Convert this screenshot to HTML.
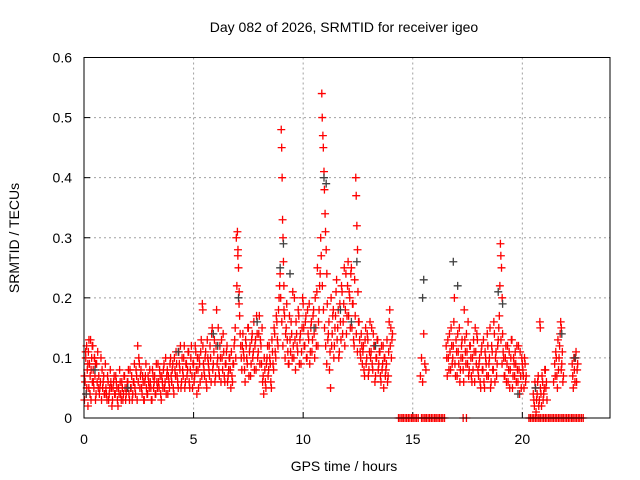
<!DOCTYPE html>
<html><head><meta charset="utf-8"><style>
body{margin:0;background:#fff}
svg{display:block;font-family:"Liberation Sans",sans-serif}
</style></head><body>
<svg id="chart" width="640" height="480" viewBox="0 0 640 480" xmlns="http://www.w3.org/2000/svg">
<rect width="640" height="480" fill="#fff"/>
<text x="344" y="32" font-size="14" text-anchor="middle">Day 082 of 2026, SRMTID for receiver igeo</text>
<text x="344" y="471" font-size="14" text-anchor="middle">GPS time / hours</text>
<text x="0" y="0" font-size="14" text-anchor="middle" transform="translate(19,238) rotate(-90)">SRMTID / TECUs</text>
<g id="grid"></g><g id="ticks"></g><g id="red"></g><g id="gray"></g>
<rect x="84" y="57.5" width="526" height="360.5" fill="none" stroke="#000" stroke-width="1"/>
</svg>
<script>
const xTicks=[0,5,10,15,20];
const yTicks=[0,0.1,0.2,0.3,0.4,0.5,0.6];
const yTickLabels=["0","0.1","0.2","0.3","0.4","0.5","0.6"];
const redT=[0.02,0.05,0.08,0.1,0.12,0.15,0.18,0.2,0.22,0.25,0.28,0.3,0.32,0.35,0.38,0.4,0.42,0.45,0.48,0.5,0.52,0.55,0.6,0.65,0.7,0.75,0.8,0.85,0.9,0.95,
1.0,1.05,1.1,1.15,1.2,1.25,1.3,1.35,1.4,1.45,1.5,1.55,1.6,1.65,1.7,1.75,1.8,1.85,1.9,1.95,2.0,2.05,2.1,2.15,2.2,2.25,2.3,2.35,2.4,2.45,2.5,2.55,
2.6,2.65,2.7,2.75,2.8,2.85,2.9,2.95,3.0,3.05,3.1,3.15,3.2,3.25,3.3,3.35,3.4,3.45,3.5,3.55,3.6,3.65,3.7,3.75,3.8,3.85,3.9,3.95,
4.0,4.05,4.1,4.15,4.2,4.25,4.3,4.35,4.4,4.45,4.5,4.55,4.6,4.65,4.7,4.75,4.8,4.85,4.9,4.95,5.0,5.05,5.1,5.15,5.2,5.25,5.3,5.35,5.4,5.42,5.45,5.5,5.55,5.6,5.65,5.7,
5.75,5.8,5.85,5.9,5.95,6.0,6.05,6.1,6.15,6.2,6.25,6.3,6.35,6.4,6.45,6.5,6.55,6.6,6.65,6.7,6.75,6.8,6.85,6.9,6.95,7.0,7.02,7.05,7.08,7.1,7.15,7.2,
7.25,7.3,7.35,7.4,7.45,7.5,7.55,7.6,7.65,7.7,7.75,7.8,7.85,7.9,7.95,8.0,8.05,8.1,8.15,8.2,8.25,8.3,8.35,8.4,8.45,8.5,8.55,8.6,8.65,8.7,8.75,8.8,8.85,8.9,
8.95,9.0,9.02,9.04,9.06,9.08,9.1,9.12,9.15,9.2,9.25,9.3,9.35,9.4,9.45,9.5,9.55,9.6,9.65,9.7,9.75,9.8,9.85,9.9,9.95,10.0,10.05,10.1,10.15,10.2,10.25,10.3,10.35,10.4,10.45,10.5,10.55,10.6,10.65,10.7,10.75,
10.8,10.85,10.87,10.9,10.92,10.95,10.97,11.0,11.02,11.05,11.08,11.1,11.15,11.2,11.25,11.3,11.35,11.4,11.45,11.5,11.55,11.6,11.65,11.7,11.75,11.8,11.85,11.9,11.95,12.0,12.05,12.1,12.15,12.2,12.25,12.3,12.35,12.4,12.42,12.45,12.48,12.5,12.55,12.6,12.65,
12.7,12.75,12.8,12.85,12.9,12.95,13.0,13.05,13.1,13.15,13.2,13.25,13.3,13.35,13.4,13.45,13.5,13.55,13.6,13.65,13.7,13.75,13.8,13.85,13.9,13.95,14.0,14.05,
15.35,15.4,15.45,15.5,15.55,15.6,
16.55,16.6,16.65,16.7,16.75,16.8,16.85,16.9,16.95,17.0,17.05,17.1,17.15,17.2,17.25,17.3,17.35,17.4,17.45,17.5,17.55,17.6,17.65,17.7,17.75,17.8,17.85,17.9,17.95,
18.0,18.05,18.1,18.15,18.2,18.25,18.3,18.35,18.4,18.45,18.5,18.55,18.6,18.65,18.7,18.75,18.8,18.85,18.9,18.95,19.0,19.02,19.05,19.08,19.1,
19.15,19.2,19.25,19.3,19.35,19.4,19.45,19.5,19.55,19.6,19.65,19.7,19.75,19.8,19.85,19.9,19.95,20.0,20.05,20.1,20.15,
20.5,20.55,20.6,20.65,20.7,20.75,20.8,20.82,20.85,20.9,20.95,21.0,21.05,21.1,
21.5,21.55,21.6,21.65,21.7,21.75,21.78,21.8,21.85,
22.3,22.35,22.4,22.45,22.5];
const redV=[.03,.06,.10,.04,.12,.08,.02,.11,.05,.09,.07,.13,.03,.10,.06,.12,.08,.05,.10,.07,.09,.04,.06,.05,.04,.06,.03,.05,.07,.04,
.05,.03,.06,.04,.08,.05,.03,.06,.04,.07,.05,.02,.04,.06,.03,.05,.04,.07,.03,.05,.06,.04,.08,.05,.03,.06,.09,.04,.07,.12,.10,.05,
.08,.04,.06,.03,.07,.05,.04,.06,.08,.05,.03,.07,.06,.04,.09,.05,.06,.08,.04,.07,.05,.09,.06,.04,.08,.07,.05,.10,
.06,.09,.04,.08,.11,.07,.05,.09,.12,.06,.08,.10,.05,.09,.07,.11,.06,.08,.12,.05,.09,.07,.11,.04,.08,.10,.06,.13,.19,.18,.09,.07,.11,.05,.10,.08,
.12,.06,.15,.09,.13,.07,.18,.10,.08,.12,.06,.10,.14,.07,.09,.11,.06,.08,.10,.05,.07,.09,.12,.15,.30,.31,.27,.25,.21,.17,.12,.08,
.14,.10,.06,.12,.09,.15,.11,.07,.13,.10,.16,.12,.08,.14,.11,.17,.13,.09,.06,.04,.08,.05,.10,.07,.12,.09,.05,.11,.08,.14,.10,.16,.12,.20,
.24,.48,.45,.40,.33,.30,.26,.22,.17,.14,.19,.11,.09,.13,.16,.10,.12,.20,.08,.14,.11,.17,.13,.09,.15,.19,.12,.16,.10,.18,.13,.09,.15,.11,.17,.14,.20,.12,.25,.16,.22,
.30,.54,.50,.47,.45,.41,.38,.34,.31,.28,.24,.19,.14,.08,.05,.12,.17,.10,.15,.21,.13,.18,.11,.16,.22,.14,.19,.12,.24,.17,.26,.21,.15,.25,.19,.13,.23,.40,.37,.32,.28,.21,.16,.11,.14,
.09,.12,.07,.15,.10,.13,.08,.16,.11,.09,.14,.12,.07,.10,.13,.09,.11,.06,.08,.12,.10,.07,.09,.06,.11,.18,.15,.13,
.07,.10,.06,.14,.09,.08,
.10,.13,.08,.11,.15,.09,.12,.20,.07,.11,.14,.09,.06,.10,.13,.08,.18,.11,.14,.09,.07,.12,.10,.06,.08,.11,.15,.09,.13,
.07,.10,.05,.12,.08,.06,.11,.09,.14,.07,.10,.05,.12,.08,.16,.06,.11,.09,.13,.17,.29,.27,.25,.20,.14,
.10,.07,.12,.09,.06,.11,.08,.13,.05,.10,.07,.09,.12,.06,.08,.11,.05,.09,.07,.10,.06,
.04,.02,.05,.03,.06,.02,.16,.15,.04,.07,.03,.05,.08,.06,
.07,.10,.05,.08,.12,.16,.15,.09,.06,
.07,.10,.06,.11,.08];
const redT2=[0.025,0.075,0.125,0.175,0.225,0.275,0.325,0.375,0.425,0.475,0.525,0.575,0.625,0.675,0.725,0.775,0.825,0.875,0.925,0.975,
1.025,1.075,1.125,1.175,1.225,1.275,1.325,1.375,1.425,1.475,1.525,1.575,1.625,1.675,1.725,1.775,1.825,1.875,1.925,1.975,2.025,2.075,2.125,2.175,2.225,2.275,2.325,2.375,2.425,2.475,2.525,2.575,
2.625,2.675,2.725,2.775,2.825,2.875,2.925,2.975,3.025,3.075,3.125,3.175,3.225,3.275,3.325,3.375,3.425,3.475,3.525,3.575,3.625,3.675,3.725,3.775,3.825,3.875,3.925,3.975,
4.025,4.075,4.125,4.175,4.225,4.275,4.325,4.375,4.425,4.475,4.525,4.575,4.625,4.675,4.725,4.775,4.825,4.875,4.925,4.975,5.025,5.075,5.125,5.175,5.225,5.275,5.325,5.375,5.425,5.475,5.525,5.575,5.625,5.675,5.725,
5.775,5.825,5.875,5.925,5.975,6.025,6.075,6.125,6.175,6.225,6.275,6.325,6.375,6.425,6.475,6.525,6.575,6.625,6.675,6.725,6.775,6.825,6.875,6.925,6.975,7.025,7.075,7.125,7.175,7.225,
7.275,7.325,7.375,7.425,7.475,7.525,7.575,7.625,7.675,7.725,7.775,7.825,7.875,7.925,7.975,8.025,8.075,8.125,8.175,8.225,8.275,8.325,8.375,8.425,8.475,8.525,8.575,8.625,8.675,8.725,8.775,8.825,8.875,8.925,
8.975,9.025,9.075,9.125,9.175,9.225,9.275,9.325,9.375,9.425,9.475,9.525,9.575,9.625,9.675,9.725,9.775,9.825,9.875,9.925,9.975,10.025,10.075,10.125,10.175,10.225,10.275,10.325,10.375,10.425,10.475,10.525,10.575,10.625,10.675,10.725,10.775,
10.825,10.875,10.925,10.975,11.025,11.075,11.125,11.175,11.225,11.275,11.325,11.375,11.425,11.475,11.525,11.575,11.625,11.675,11.725,11.775,11.825,11.875,11.925,11.975,12.025,12.075,12.125,12.175,12.225,12.275,12.325,12.375,12.425,12.475,12.525,12.575,12.625,12.675,
12.725,12.775,12.825,12.875,12.925,12.975,13.025,13.075,13.125,13.175,13.225,13.275,13.325,13.375,13.425,13.475,13.525,13.575,13.625,13.675,13.725,13.775,13.825,13.875,13.925,13.975,14.025,14.075,
16.525,16.575,16.625,16.675,16.725,16.775,16.825,16.875,16.925,16.975,17.025,17.075,17.125,17.175,17.225,17.275,17.325,17.375,17.425,17.475,17.525,17.575,17.625,17.675,17.725,17.775,17.825,17.875,17.925,17.975,
18.025,18.075,18.125,18.175,18.225,18.275,18.325,18.375,18.425,18.475,18.525,18.575,18.625,18.675,18.725,18.775,18.825,18.875,18.925,18.975,19.025,19.075,19.125,19.175,19.225,19.275,19.325,19.375,19.425,19.475,19.525,19.575,19.625,19.675,19.725,19.775,19.825,19.875,19.925,19.975,20.025,20.075,20.125,20.175,
20.525,20.575,20.625,20.675,20.725,20.775,20.825,20.875,20.925,20.975,21.025,21.075,21.125,
21.425,21.475,21.525,21.575,21.625,21.675,21.725,21.775,21.825,21.875,
22.275,22.325,22.375,22.425,22.475,22.525];
const redV2=[.07,.11,.05,.09,.13,.04,.08,.12,.06,.10,.03,.09,.11,.07,.05,.10,.08,.06,.04,.09,
.04,.07,.03,.05,.06,.02,.05,.07,.04,.06,.03,.05,.08,.04,.06,.03,.07,.05,.04,.06,.08,.03,.05,.07,.04,.06,.05,.08,.03,.06,.09,.07,
.05,.07,.03,.06,.09,.04,.07,.05,.06,.03,.08,.05,.07,.04,.06,.09,.05,.07,.03,.06,.08,.05,.10,.07,.04,.06,.09,.07,
.08,.05,.10,.07,.09,.06,.11,.08,.05,.10,.07,.12,.06,.09,.08,.11,.05,.10,.07,.09,.06,.12,.08,.10,.05,.09,.11,.07,.12,.08,.10,.06,.13,.09,.07,
.10,.14,.08,.11,.06,.12,.09,.15,.07,.10,.13,.08,.11,.06,.09,.12,.07,.10,.08,.11,.06,.09,.13,.10,.22,.28,.19,.14,.10,.12,
.11,.08,.13,.10,.15,.07,.12,.09,.14,.11,.08,.13,.17,.10,.14,.09,.12,.15,.07,.10,.06,.09,.12,.08,.10,.06,.13,.09,.15,.11,.17,.13,.18,.22,
.20,.16,.12,.18,.10,.15,.13,.09,.17,.11,.14,.21,.10,.13,.16,.12,.18,.09,.14,.11,.20,.15,.12,.17,.10,.14,.19,.11,.16,.13,.18,.10,.15,.21,.12,.18,.24,
.27,.22,.18,.15,.12,.09,.13,.16,.11,.20,.14,.18,.12,.17,.23,.15,.10,.19,.13,.21,.16,.25,.18,.14,.22,.17,.20,.24,.15,.19,.12,.17,.14,.11,.16,.13,.10,.12,
.11,.08,.13,.09,.14,.07,.11,.10,.15,.08,.12,.06,.10,.13,.08,.11,.07,.12,.09,.05,.10,.08,.13,.07,.16,.12,.10,.14,
.12,.07,.10,.14,.08,.12,.10,.16,.09,.13,.07,.11,.15,.08,.12,.10,.06,.13,.09,.11,.16,.08,.12,.07,.10,.13,.06,.11,.14,.08,
.09,.06,.11,.08,.13,.05,.10,.07,.12,.09,.15,.06,.11,.08,.14,.10,.07,.12,.15,.22,.13,.09,.11,.07,.10,.06,.12,.08,.05,.10,.13,.07,.09,.11,.06,.08,.12,.04,.07,.10,.08,.05,.09,.07,
.03,.06,.01,.04,.07,.03,.05,.02,.06,.04,.08,.05,.03,
.06,.09,.11,.07,.13,.10,.14,.08,.11,.07,
.09,.05,.08,.10,.06,.09];
const zeroT=[14.35,14.42,14.5,14.57,14.65,14.72,14.8,14.87,14.95,15.02,15.1,15.17,15.25,15.4,15.47,15.55,15.62,15.7,15.77,15.85,15.92,16.0,16.07,16.15,16.22,16.3,16.37,16.45,17.3,17.45,
20.3,20.37,20.45,20.52,20.6,20.67,20.75,20.82,20.9,20.97,21.05,21.12,21.2,21.27,21.35,21.42,21.5,21.57,21.65,21.72,21.8,21.87,21.95,22.02,22.1,22.17,22.25,22.32,22.4,22.47,22.55,22.62,22.7,22.78];
const grayT=[0.1,0.5,2.0,4.3,5.9,6.1,7.05,7.9,8.95,9.1,9.4,10.5,10.95,11.05,11.7,12.2,12.45,13.3,15.45,15.5,16.85,17.05,18.9,19.1,19.8,20.6,21.8,22.4];
const grayV=[.04,.08,.05,.11,.14,.12,.20,.16,.25,.29,.24,.15,.40,.39,.18,.16,.26,.12,.20,.23,.26,.22,.21,.19,.04,.05,.14,.10];

const NS="http://www.w3.org/2000/svg";
const X0=84,X1=610,Y0=418,Y1=57.5;
function xs(t){return X0+(t/24)*(X1-X0);}
function ys(v){return Y0-(v/0.6)*(Y0-Y1);}
function mk(tag,attrs,parent){const e=document.createElementNS(NS,tag);for(const k in attrs)e.setAttribute(k,attrs[k]);parent.appendChild(e);return e;}
const grid=document.getElementById('grid'),ticks=document.getElementById('ticks');
yTicks.forEach((v,i)=>{
  const y=ys(v);
  if(i>0&&i<yTicks.length-1){
    const g=mk('line',{x1:X0,x2:X1,y1:y,y2:y,stroke:'#a0a0a0','stroke-dasharray':'2,3','stroke-width':1},grid);
    
    
  }
  const tk=mk('line',{x1:X0,x2:X0+6,y1:y,y2:y,stroke:'#000'},ticks);
  
  
  const tx=mk('text',{x:72,y:y+5,'font-size':14,'text-anchor':'end'},ticks);
  tx.textContent=yTickLabels[i];
  
  
});
xTicks.forEach(t=>{
  const x=xs(t);
  if(t>0){
    const g=mk('line',{x1:x,x2:x,y1:Y1,y2:Y0,stroke:'#a0a0a0','stroke-dasharray':'2,3','stroke-width':1},grid);
    
    
  }
  const tk=mk('line',{x1:x,x2:x,y1:Y0,y2:Y0-6,stroke:'#000'},ticks);
  
  
  const tx=mk('text',{x:x,y:444,'font-size':14,'text-anchor':'middle'},ticks);
  tx.textContent=String(t);
  
  
});
function plus(t,v,color,parent,name){
  const x=xs(t),y=ys(v);
  const p=mk('path',{d:`M${x-4},${y}h8M${x},${y-4}v8`,stroke:color,'stroke-width':1.3,fill:'none'},parent);
  
  
}
const gG=document.getElementById('gray'),gR=document.getElementById('red');
grayT.forEach((t,i)=>plus(t,grayV[i],'#404040',gG,'gray-point'));
redT.forEach((t,i)=>plus(t,redV[i],'#ff0000',gR,'red-point'));
redT2.forEach((t,i)=>plus(t,redV2[i],'#ff0000',gR,'red-point'));
zeroT.forEach(t=>plus(t,0,'#ff0000',gR,'red-zero-point'));
</script>
</body></html>
